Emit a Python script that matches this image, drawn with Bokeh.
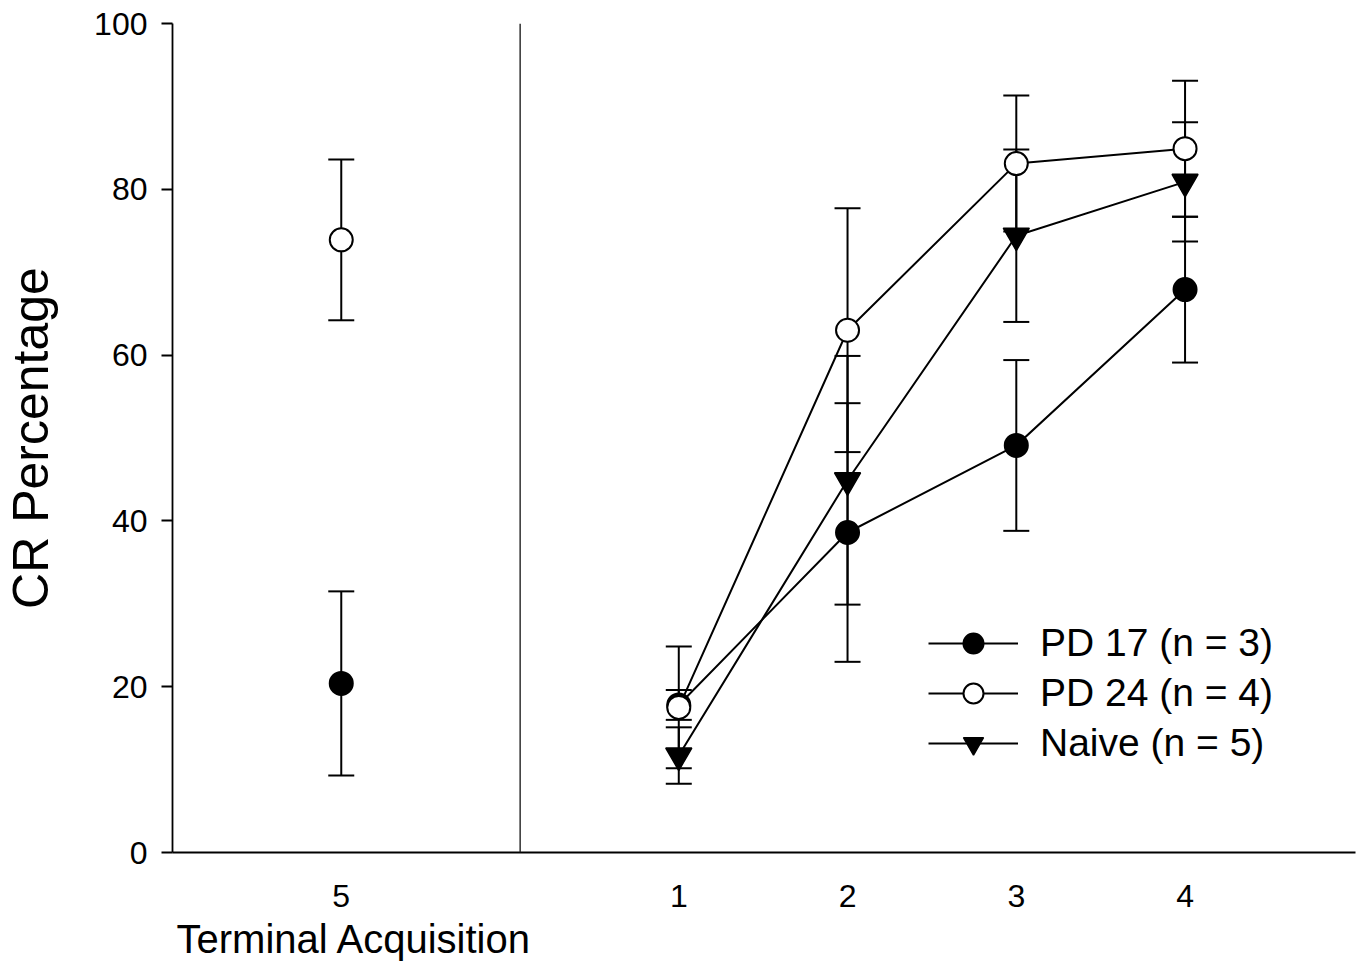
from bokeh.plotting import figure
from bokeh.models import (Range1d, FixedTicker, Whisker, TeeHead, ColumnDataSource,
                          Span, Title, Legend, LegendItem)
from bokeh.embed import file_html
from bokeh.resources import INLINE

# ---------------- data ----------------
sessions = [1, 2, 3, 4]
tick_labels = {"terminal": "5", 1: "1", 2: "2", 3: "3", 4: "4"}
terminal_label = "Terminal Acquisition"

pd17_terminal = 20.4
pd17_terminal_sem = 11.1
pd24_terminal = 73.9
pd24_terminal_sem = 9.7

pd17 = [17.8, 38.6, 49.1, 67.9]
pd17_sem = [1.8, 15.6, 10.3, 8.8]
pd24 = [17.5, 63.0, 83.1, 84.9]
pd24_sem = [7.35, 14.7, 8.2, 8.2]
naive = [11.7, 44.9, 74.4, 80.9]
naive_sem = [3.4, 15.0, 10.4, 7.2]

labels = ["PD 17 (n = 3)", "PD 24 (n = 4)", "Naive (n = 5)"]

# ---------------- layout constants ----------------
TERMINAL_X = -1
FONT = "Liberation Sans"

p = figure(width=1363, height=966, output_backend="svg", toolbar_location=None,
           x_range=Range1d(-2, 5.01), y_range=Range1d(0, 100),
           min_border_left=172, min_border_right=8, min_border_top=23, min_border_bottom=114)
p.grid.visible = False
p.outline_line_color = None
p.background_fill_color = "white"
p.border_fill_color = "white"

# axes
p.xaxis.ticker = FixedTicker(ticks=[TERMINAL_X] + sessions)
p.xaxis.major_label_overrides = {TERMINAL_X: tick_labels["terminal"],
                                 **{s: tick_labels[s] for s in sessions}}
p.xaxis.major_tick_out = 0
p.xaxis.major_tick_in = 0
p.xaxis.minor_tick_out = 0
p.xaxis.minor_tick_in = 0
p.xaxis.major_label_standoff = 32
p.yaxis.ticker = FixedTicker(ticks=[0, 20, 40, 60, 80, 100])
p.yaxis.major_tick_out = 11
p.yaxis.major_tick_in = 0
p.yaxis.minor_tick_out = 0
p.yaxis.minor_tick_in = 0
p.yaxis.major_label_standoff = 14
p.yaxis.axis_label = "CR Percentage"
p.yaxis.axis_label_text_font_size = "50px"
p.yaxis.axis_label_text_font_style = "normal"
p.yaxis.axis_label_standoff = 32
for ax in (p.xaxis[0], p.yaxis[0]):
    ax.axis_line_width = 1.8
    ax.axis_line_color = "black"
    ax.major_tick_line_width = 1.8
    ax.major_tick_line_color = "black"
    ax.major_label_text_font_size = "32px"
    ax.major_label_text_font = FONT
    ax.major_label_text_color = "black"
    ax.axis_label_text_font = FONT
    ax.axis_label_text_color = "black"

# separator line
p.add_layout(Span(location=0.06, dimension="height", line_color="#222222", line_width=1.4))

# x-axis title under "5"
p.add_layout(Title(text=terminal_label, align="left", offset=4, standoff=11,
                   text_font=FONT, text_font_size="40px", text_font_style="normal",
                   text_color="black"), "below")

# ---------------- error bars ----------------
def add_whiskers(xs, ys, es):
    src = ColumnDataSource(dict(x=xs, lo=[y - e for y, e in zip(ys, es)],
                                hi=[y + e for y, e in zip(ys, es)]))
    w = Whisker(source=src, base="x", lower="lo", upper="hi", dimension="height",
                line_color="black", line_width=2,
                upper_head=TeeHead(size=26, line_width=2, line_color="black"),
                lower_head=TeeHead(size=26, line_width=2, line_color="black"))
    p.add_layout(w)

add_whiskers(sessions, pd17, pd17_sem)
add_whiskers(sessions, pd24, pd24_sem)
add_whiskers(sessions, naive, naive_sem)
add_whiskers([TERMINAL_X, TERMINAL_X], [pd17_terminal, pd24_terminal],
             [pd17_terminal_sem, pd24_terminal_sem])

# ---------------- lines & markers ----------------
l17 = p.line(sessions, pd17, line_color="black", line_width=2)
l24 = p.line(sessions, pd24, line_color="black", line_width=2)
lnv = p.line(sessions, naive, line_color="black", line_width=2)

m17 = p.scatter(sessions, pd17, marker="circle", size=23, fill_color="black",
                line_color="black", line_width=2)
mnv = p.scatter(sessions, naive, marker="inverted_triangle", size=26, fill_color="black",
                line_color="black", line_width=1.5)
m24 = p.scatter(sessions, pd24, marker="circle", size=23, fill_color="white",
                line_color="black", line_width=2)
p.scatter([TERMINAL_X], [pd17_terminal], marker="circle", size=23, fill_color="black",
          line_color="black", line_width=2)
p.scatter([TERMINAL_X], [pd24_terminal], marker="circle", size=23, fill_color="white",
          line_color="black", line_width=2)

legend = Legend(items=[LegendItem(label=labels[0], renderers=[l17, m17]),
                       LegendItem(label=labels[1], renderers=[l24, m24]),
                       LegendItem(label=labels[2], renderers=[lnv, mnv])],
                location=(756, 84), orientation="vertical",
                glyph_width=90, glyph_height=50, label_height=48, spacing=-4,
                padding=0, margin=0, label_standoff=22,
                label_text_font=FONT, label_text_font_size="39px", label_text_color="black",
                border_line_color=None, background_fill_alpha=0)
p.add_layout(legend)

open("out.html", "w").write(file_html(p, INLINE))
